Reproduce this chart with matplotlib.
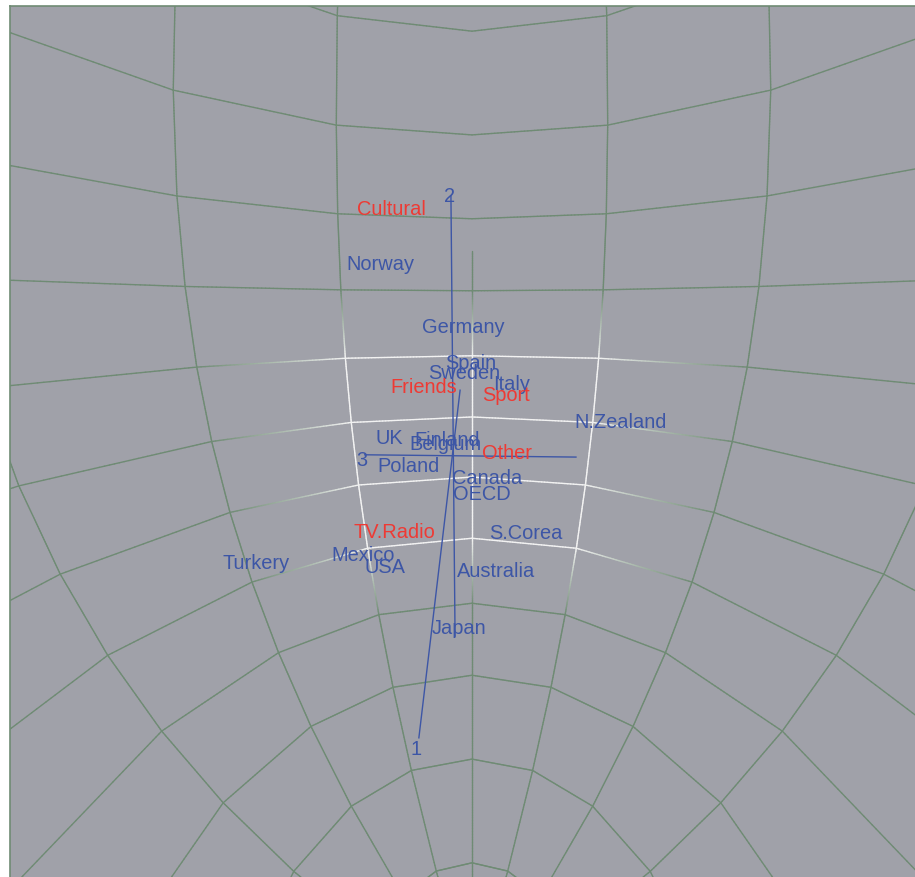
import numpy as np
import matplotlib
matplotlib.use("Agg")
import matplotlib.pyplot as plt
from matplotlib.collections import LineCollection

# ---- correspondence analysis map (projected coordinates on the view plane) ----
row_names = ["Norway", "Germany", "Spain", "Sweden", "Italy", "N.Zealand", "UK",
             "Finland", "Belgium", "Poland", "Canada", "OECD", "S.Corea", "Mexico",
             "USA", "Turkery", "Australia", "Japan"]
row_x = [-0.201, -0.020, -0.002, -0.017, 0.087, 0.325, -0.181,
         -0.055, -0.057, -0.138, 0.033, 0.022, 0.118, -0.238,
         -0.190, -0.472, 0.052, -0.028]
row_y = [0.404, 0.266, 0.188, 0.166, 0.142, 0.059, 0.024,
         0.020, 0.011, -0.037, -0.063, -0.098, -0.183, -0.231,
         -0.258, -0.249, -0.266, -0.391]

col_names = ["Cultural", "Friends", "Sport", "Other", "TV.Radio"]
col_x = [-0.175, -0.105, 0.074, 0.076, -0.170]
col_y = [0.524, 0.135, 0.118, -0.009, -0.181]

# principal axes: labelled end -> opposite end
axis_names = ["1", "2", "3"]
axis_x0 = [-0.116, -0.046, -0.234]
axis_y0 = [-0.635, 0.548, -0.017]
axis_x1 = [-0.026, -0.037, 0.227]
axis_y1 = [0.124, -0.413, -0.022]
axis_label_dx = [-3, -1, -3]   # pixel nudges of the axis numbers
axis_label_dy = [-9, 2, -3]

BLUE = "#3d56a6"
RED = "#ee3a34"
BG = "#a0a1a9"
GRID = np.array([0x6f, 0x8b, 0x74]) / 255.0
HILITE = np.array([0xf2, 0xf2, 0xf2]) / 255.0

plt.rcParams["font.family"] = ["Liberation Sans", "DejaVu Sans"]
FS = 14.4

W, H, DPI = 915, 878, 100
fig = plt.figure(figsize=(W / DPI, H / DPI), dpi=DPI, facecolor="white")
# view plane in focal-length units, centre of view at pixel (472, 448)
f_px, cx, cy = 458.0, 472.0, 448.0
left_px, top_px = 10.0, 7.0
ax = fig.add_axes([left_px / W, 0.0, (W - left_px) / W, (H - top_px) / H])
ax.set_xlim((left_px - cx) / f_px, (W - cx) / f_px)
ax.set_ylim((cy - H) / f_px, (cy - top_px) / f_px)
ax.set_facecolor(BG)
ax.set_xticks([])
ax.set_yticks([])
for side in ("right", "bottom"):
    ax.spines[side].set_visible(False)
for side in ("top", "left"):
    ax.spines[side].set_color("#6f8b74")
    ax.spines[side].set_linewidth(1.2)

# ---- background globe: lat/long mesh seen from inside ----
d = 0.5                      # eye offset from the globe centre (radius 1)
alpha = np.radians(16.875)   # downward tilt of the view
Fv = np.array([0.0, -np.sin(alpha), np.cos(alpha)])
Uv = np.array([0.0, np.cos(alpha), np.sin(alpha)])
Rv = np.array([1.0, 0.0, 0.0])
eye = -d * Fv

lat_deg = np.arange(-90.0, 90.01, 11.25)
lon_deg = np.arange(-180.0, 180.0, 22.5)
lit_lat = {0.0, -11.25, -22.5, -33.75}
lit_lon = {-22.5, 0.0, 22.5}


def vertex(la, lo):
    a, b = np.radians(la), np.radians(lo)
    return np.array([np.cos(a) * np.sin(b), np.sin(a), np.cos(a) * np.cos(b)])


def shade(la, lo):
    return 1.0 if (la in lit_lat and lo in lit_lon) else 0.0


segs, cols = [], []
t = np.linspace(0.0, 1.0, 41)


def add_edge(p0, p1, w0, w1, cut_top=None):
    P = (1 - t)[:, None] * p0 + t[:, None] * p1
    Q = P - eye
    depth = Q @ Fv
    ok = depth > 0.05
    u = np.where(ok, (Q @ Rv) / np.where(ok, depth, 1), np.nan)
    v = np.where(ok, (Q @ Uv) / np.where(ok, depth, 1), np.nan)
    w = (1 - t) * w0 + t * w1
    for i in range(len(t) - 1):
        if not (ok[i] and ok[i + 1]):
            continue
        if cut_top is not None and (v[i] > cut_top or v[i + 1] > cut_top):
            continue
        segs.append([(u[i], v[i]), (u[i + 1], v[i + 1])])
        wm = 0.5 * (w[i] + w[i + 1])
        cols.append(tuple((1 - wm) * GRID + wm * HILITE) + (1.0,))


nlon = len(lon_deg)
for j, lo in enumerate(lon_deg):
    for k in range(len(lat_deg) - 1):
        la0, la1 = lat_deg[k], lat_deg[k + 1]
        cut = 197.0 / f_px if lo == 0.0 else None
        add_edge(vertex(la0, lo), vertex(la1, lo), shade(la0, lo), shade(la1, lo), cut)
for k in range(1, len(lat_deg) - 1):
    la = lat_deg[k]
    for j in range(nlon):
        lo0, lo1 = lon_deg[j], lon_deg[(j + 1) % nlon]
        add_edge(vertex(la, lo0), vertex(la, lo1), shade(la, lo0), shade(la, lo1))

ax.add_collection(LineCollection(segs, colors=cols, linewidths=1.0, zorder=1,
                                 capstyle="round"))

# ---- principal axes ----
for name, x0, y0, x1, y1, dx, dy in zip(axis_names, axis_x0, axis_y0, axis_x1, axis_y1,
                                        axis_label_dx, axis_label_dy):
    ax.plot([x0, x1], [y0, y1], color=BLUE, lw=1.0, zorder=2)
    ax.annotate(name, (x0, y0), xytext=(dx, dy - 7), textcoords="offset pixels",
                ha="center", va="baseline", color=BLUE, fontsize=FS, zorder=3)

# ---- row and column points as labels ----
for name, x, y in zip(row_names, row_x, row_y):
    ax.annotate(name, (x, y), xytext=(0, -7), textcoords="offset pixels",
                ha="center", va="baseline", color=BLUE, fontsize=FS, zorder=3)
for name, x, y in zip(col_names, col_x, col_y):
    ax.annotate(name, (x, y), xytext=(0, -7), textcoords="offset pixels",
                ha="center", va="baseline", color=RED, fontsize=FS, zorder=3)

fig.savefig("out.png", dpi=DPI, facecolor="white")
